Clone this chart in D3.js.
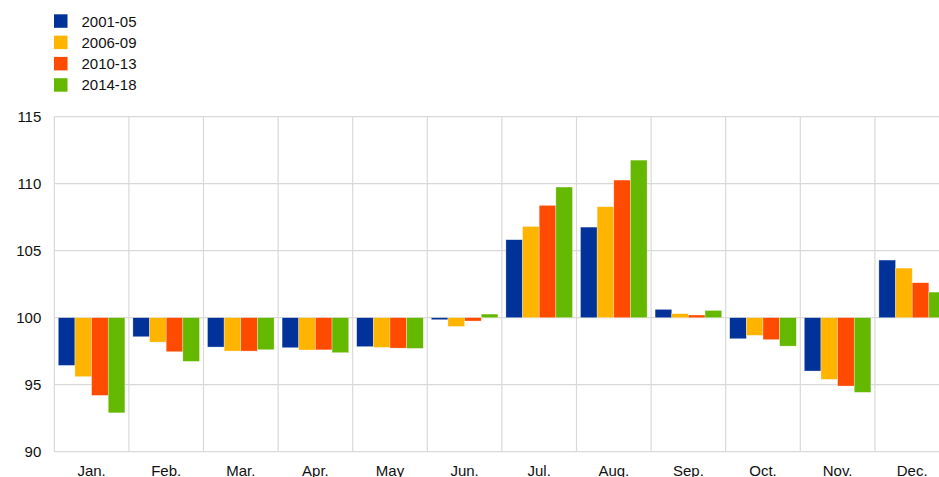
<!DOCTYPE html>
<html><head><meta charset="utf-8">
<script src="https://cdn.jsdelivr.net/npm/d3@7"></script>
<style>body{margin:0;background:#fff;} svg{display:block;font-family:"Liberation Sans",Arial,sans-serif;}</style>
</head><body><svg id="c" width="939" height="477"></svg>
<script>
const months = ["Jan.","Feb.","Mar.","Apr.","May","Jun.","Jul.","Aug.","Sep.","Oct.","Nov.","Dec."];
const seriesNames = ["2001-05","2006-09","2010-13","2014-18"];
const colors = ["#003299","#FFB400","#FF4B00","#65B800"];
const s2001_05 = [96.44,98.58,97.81,97.76,97.84,99.85,105.82,106.76,100.62,98.43,96.02,104.30];
const s2006_09 = [95.60,98.18,97.51,97.59,97.78,99.35,106.81,108.28,100.30,98.68,95.40,103.70];
const s2010_13 = [94.20,97.46,97.51,97.60,97.73,99.75,108.38,110.27,100.20,98.36,94.90,102.61];
const s2014_18 = [92.90,96.74,97.61,97.39,97.71,100.27,109.75,111.76,100.54,97.88,94.43,101.91];
const seriesValues = [s2001_05,s2006_09,s2010_13,s2014_18];
const yTicks = [90,95,100,105,110,115];
const baseline = 100;

(function(){
const svg = d3.select("#c");
const mLeft = 54.3, mRight = 949.5, mTop = 116.7, mBottom = 451.7;
const x = d3.scaleBand().domain(months).range([mLeft,mRight]).paddingInner(0).paddingOuter(0);
const inner = d3.scaleBand().domain(seriesNames).range([4, x.bandwidth()-4]).padding(0);
const y = d3.scaleLinear().domain([90,115]).range([mBottom,mTop]);
const grid = "#d9d9d9";
const txt = "#111";
const fs = 15;

svg.append("g").selectAll("line").data(yTicks).join("line")
  .attr("x1",mLeft).attr("x2",mRight).attr("y1",d=>y(d)).attr("y2",d=>y(d))
  .attr("stroke",grid).attr("stroke-width",1.2);
svg.append("g").selectAll("line").data(months).join("line")
  .attr("x1",d=>x(d)).attr("x2",d=>x(d)).attr("y1",mTop).attr("y2",mBottom)
  .attr("stroke",grid).attr("stroke-width",1.2);

const bars = [];
seriesValues.forEach((arr,si)=>arr.forEach((v,mi)=>bars.push({m:months[mi],s:seriesNames[si],v,c:colors[si]})));
svg.append("g").selectAll("rect").data(bars).join("rect")
  .attr("x",d=>x(d.m)+inner(d.s))
  .attr("width",inner.bandwidth())
  .attr("y",d=>y(Math.max(d.v,baseline)))
  .attr("height",d=>Math.abs(y(d.v)-y(baseline)))
  .attr("fill",d=>d.c)
  .attr("stroke","#ffffff").attr("stroke-opacity",0.5).attr("stroke-width",0.6);

const yAxis = d3.axisLeft(y).tickValues(yTicks).tickSize(0).tickPadding(13);
const ya = svg.append("g").attr("transform",`translate(${mLeft},0)`).call(yAxis);
ya.select(".domain").remove();
ya.selectAll("text").attr("font-size",fs).attr("fill",txt).attr("font-family","Liberation Sans, Arial, sans-serif");

const xAxis = d3.axisBottom(x).tickSize(0).tickPadding(13.5);
const xa = svg.append("g").attr("transform",`translate(0,${mBottom})`).call(xAxis);
xa.select(".domain").remove();
xa.selectAll("text").attr("font-size",fs).attr("fill",txt).attr("font-family","Liberation Sans, Arial, sans-serif");

const lg = svg.append("g").selectAll("g").data(seriesNames).join("g")
  .attr("transform",(d,i)=>`translate(54,${14.3+i*21.3})`);
lg.append("rect").attr("width",13.5).attr("height",13.5).attr("fill",(d,i)=>colors[i]);
lg.append("text").attr("x",27.5).attr("y",7).attr("dy","0.35em").attr("font-size",fs).attr("fill",txt).text(d=>d);
})();
</script></body></html>
